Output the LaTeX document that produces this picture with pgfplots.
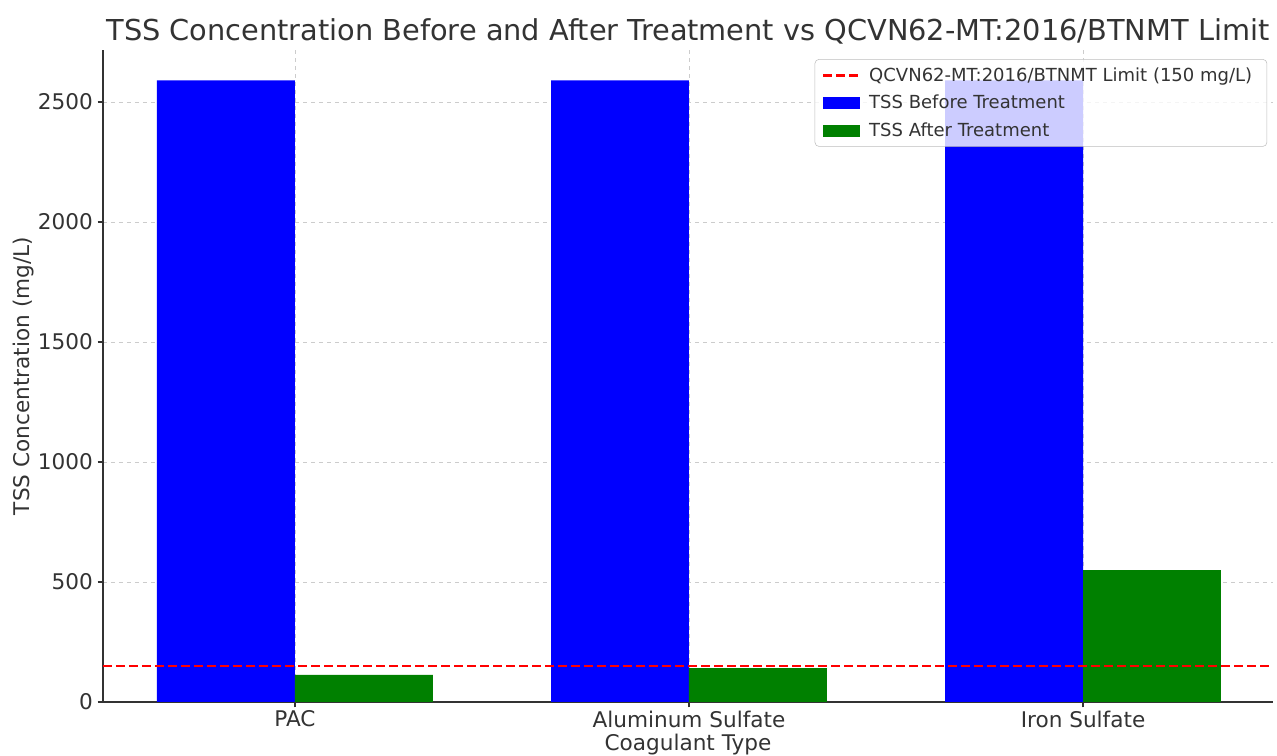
\documentclass[border=0pt]{standalone}
\usepackage{pgfplots}
\pgfplotsset{compat=1.18}
\usepackage{fontspec}
\setmainfont{DejaVu Sans}
\definecolor{txt}{HTML}{333333}
\definecolor{gridc}{HTML}{CCCCCC}
\definecolor{mgreen}{RGB}{0,128,0}
\definecolor{mblue}{RGB}{0,0,255}
\begin{document}
\begin{tikzpicture}
\useasboundingbox (-77.25pt,-40.5pt) rectangle (880.5pt,526.5pt);
\clip (-77.25pt,-40.5pt) rectangle (880.5pt,526.5pt);
\begin{axis}[
  name=ax,
  at={(0pt,0pt)}, anchor=south west,
  scale only axis,
  width=877.5pt, height=489pt,
  xmin=-0.487, xmax=2.482,
  ymin=0, ymax=2717,
  xtick={0,1,2},
  xticklabels={PAC,Aluminum Sulfate,Iron Sulfate},
  ytick={0,500,1000,1500,2000,2500},
  /pgf/number format/assume math mode=true,
  /pgf/number format/1000 sep={},
  axis lines=left,
  axis line style={-, txt, line width=1.1pt},
  tick style={txt, line width=0.9pt},
  tick align=outside,
  major tick length=4pt,
  grid=major,
  major grid style={gridc, dashed, line width=0.6pt},
  tick label style={font=\fontsize{16.2}{19}\selectfont, text=txt},
  xticklabel style={yshift=1pt},
  title={TSS Concentration Before and After Treatment vs QCVN62-MT:2016/BTNMT Limit},
  title style={font=\fontsize{21.6}{25}\selectfont, text=txt, yshift=-5pt},
  xlabel={Coagulant Type},
  ylabel={TSS Concentration (mg/L)},
  label style={font=\fontsize{16.2}{19}\selectfont, text=txt},
  xlabel style={yshift=2pt},
  ylabel style={yshift=-4pt},
  legend style={at={(rel axis cs:0.995,0.986)}, anchor=north east,
    font=\fontsize{13.5}{16}\selectfont, text=txt,
    fill=white, fill opacity=0.8, text opacity=1, draw=gridc!80!gray,
    rounded corners=3pt, row sep=5pt, inner xsep=5pt, inner ysep=4pt,
    nodes={inner xsep=6pt}},
  legend cell align=left,
  legend image code/.code={\fill[#1, sharp corners, fill opacity=1] (0pt,-4.5pt) rectangle (27.5pt,4.5pt);},
]
\addlegendimage{legend image code/.code={\draw[red, sharp corners, draw opacity=1, dash pattern=on 6.75pt off 3pt, line width=2.2pt] (0pt,0pt) -- (27.5pt,0pt);}}
\addlegendentry{QCVN62-MT:2016/BTNMT Limit (150 mg/L)}
\addplot[ybar, bar width=0.35, bar shift=-0.175, fill=mblue, draw=none] coordinates {(0,2590) (1,2590) (2,2590)};
\addlegendentry{TSS Before Treatment}
\addplot[ybar, bar width=0.35, bar shift=0.175, fill=mgreen, draw=none] coordinates {(0,113) (1,141) (2,550)};
\addlegendentry{TSS After Treatment}
\addplot[red, dash pattern=on 6.75pt off 3pt, line width=2.2pt, forget plot] coordinates {(-0.487,150) (2.482,150)};
\end{axis}
\end{tikzpicture}
\end{document}
